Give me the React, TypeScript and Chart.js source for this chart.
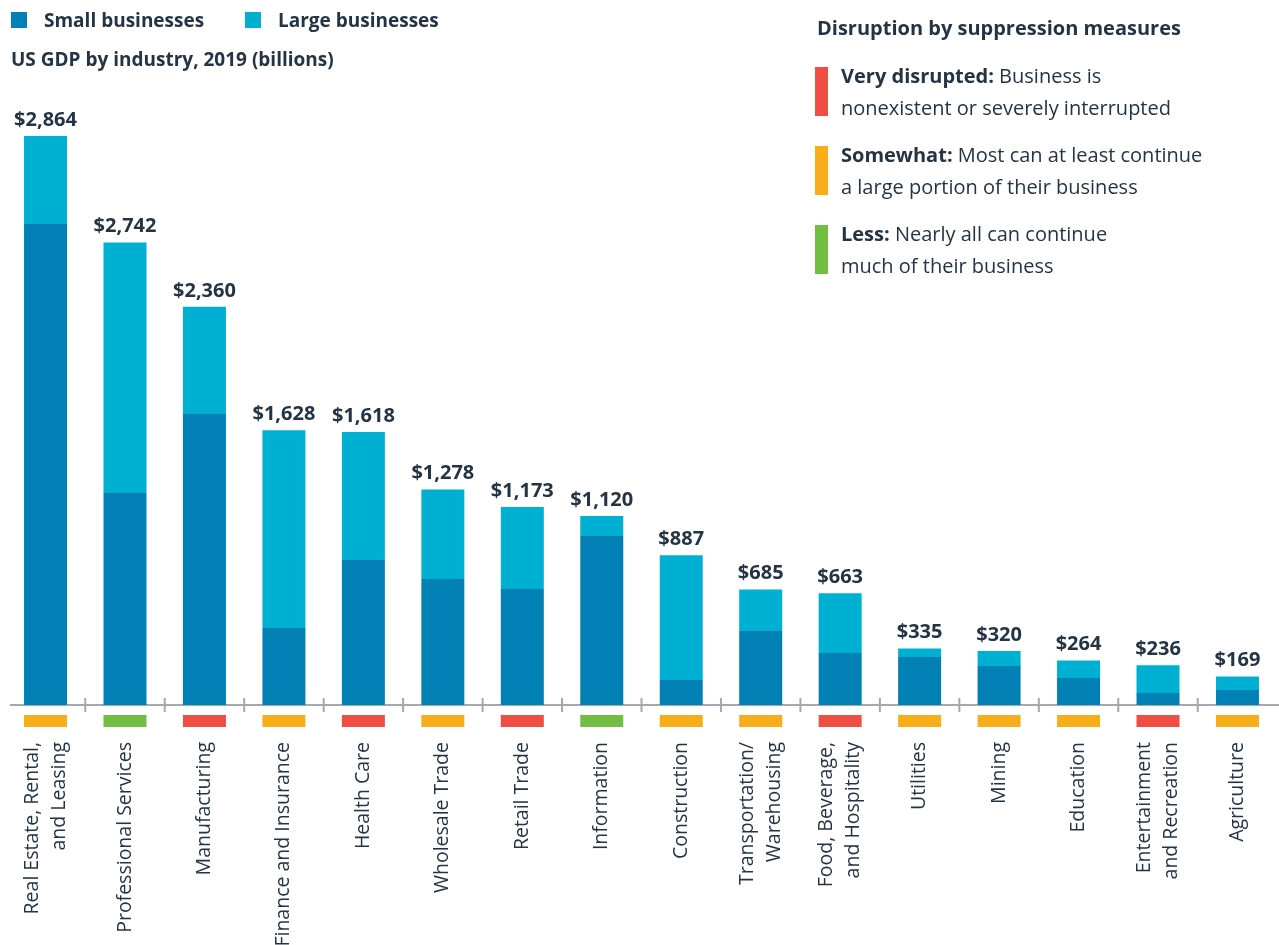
import React, { useEffect, useRef } from "react";
import { Chart, registerables } from "chart.js";

Chart.register(...registerables);

// ---------- data ----------
const categories: string[][] = [
  ["Real Estate, Rental,", "and Leasing"],
  ["Professional Services"],
  ["Manufacturing"],
  ["Finance and Insurance"],
  ["Health Care"],
  ["Wholesale Trade"],
  ["Retail Trade"],
  ["Information"],
  ["Construction"],
  ["Transportation/", "Warehousing"],
  ["Food, Beverage,", "and Hospitality"],
  ["Utilities"],
  ["Mining"],
  ["Education"],
  ["Entertainment", "and Recreation"],
  ["Agriculture"],
];
const smallBusinesses = [2851, 1257, 1725, 456, 860, 747, 688, 1002, 148, 439, 308, 285, 231, 160, 71, 89];
const largeBusinesses = [522, 1485, 635, 1172, 758, 531, 485, 118, 739, 246, 355, 50, 89, 104, 165, 80];
const totalLabels = [2864, 2742, 2360, 1628, 1618, 1278, 1173, 1120, 887, 685, 663, 335, 320, 264, 236, 169];
const disruption = [
  "somewhat", "less", "very", "somewhat", "very", "somewhat", "very", "less",
  "somewhat", "somewhat", "very", "somewhat", "somewhat", "somewhat", "very", "somewhat",
];
const yMax = 3500;

// ---------- styles ----------
const FONT = '"Open Sans", sans-serif';
const TEXT = "#253445";
const SMALL_C = "#0080B4";
const LARGE_C = "#00B0D3";
const AXIS_C = "#A3A8B1";
const DISRUPT_C: Record<string, string> = { very: "#F04E45", somewhat: "#F8AD1A", less: "#72BE44" };

const overlayPlugin = {
  id: "overlay",
  beforeDatasetsDraw(chart: any) {
    const ctx = chart.ctx;
    const xs = chart.scales.x;
    const ys = chart.scales.y;
    const base = ys.getPixelForValue(0);
    ctx.save();
    ctx.strokeStyle = AXIS_C;
    ctx.lineWidth = 2;
    ctx.beginPath();
    ctx.moveTo(10, base);
    ctx.lineTo(chart.width, base);
    for (let i = 0; i < categories.length - 1; i++) {
      const tx = (xs.getPixelForValue(i) + xs.getPixelForValue(i + 1)) / 2;
      ctx.moveTo(tx, base - 7);
      ctx.lineTo(tx, base + 7);
    }
    ctx.stroke();
    ctx.restore();
  },
  afterDatasetsDraw(chart: any) {
    const ctx = chart.ctx;
    const ys = chart.scales.y;
    const base = ys.getPixelForValue(0);
    const meta = chart.getDatasetMeta(1);
    ctx.save();
    for (let i = 0; i < categories.length; i++) {
      const bar = meta.data[i] as any;
      const x = bar.x;
      const w = bar.width;
      // total value label
      ctx.fillStyle = TEXT;
      ctx.font = `700 20px ${FONT}`;
      ctx.textAlign = "center";
      ctx.textBaseline = "alphabetic";
      ctx.fillText("$" + totalLabels[i].toLocaleString("en-US"), x, bar.y - 10);
      // disruption marker
      ctx.fillStyle = DISRUPT_C[disruption[i]];
      ctx.fillRect(x - w / 2, base + 10, w, 12);
      // category label, rotated
      const lines = categories[i];
      const L = 27;
      ctx.save();
      ctx.translate(x, base + 37);
      ctx.rotate(-Math.PI / 2);
      ctx.fillStyle = TEXT;
      ctx.font = `500 19.5px ${FONT}`;
      ctx.textAlign = "right";
      ctx.textBaseline = "middle";
      lines.forEach((ln, j) => {
        ctx.fillText(ln, 0, (j - (lines.length - 1) / 2) * L);
      });
      ctx.restore();
    }
    ctx.restore();
  },
};

function ChartCanvas() {
  const ref = useRef<HTMLCanvasElement | null>(null);
  useEffect(() => {
    if (!ref.current) return;
    const chart = new Chart(ref.current, {
      type: "bar",
      data: {
        labels: categories.map((c) => c.join(" ")),
        datasets: [
          { label: "Small businesses", data: smallBusinesses, backgroundColor: SMALL_C, borderWidth: 0 },
          { label: "Large businesses", data: largeBusinesses, backgroundColor: LARGE_C, borderWidth: 0 },
        ],
      },
      options: {
        responsive: false,
        animation: false,
        devicePixelRatio: 1,
        datasets: { bar: { categoryPercentage: 1, barPercentage: 0.541 } },
        layout: { padding: { left: 5.8, right: 1.8, top: 114.5, bottom: 240 } },
        scales: {
          x: { display: false, stacked: true },
          y: { display: false, stacked: true, min: 0, max: yMax },
        },
        plugins: { legend: { display: false }, tooltip: { enabled: false } },
      },
      plugins: [overlayPlugin],
    });
    return () => chart.destroy();
  }, []);
  return (
    <canvas
      ref={ref}
      width={1279}
      height={945}
      style={{ position: "absolute", left: 0, top: 0, width: 1279, height: 945 }}
    />
  );
}

const abs = (left: number, top: number, extra: React.CSSProperties = {}): React.CSSProperties => ({
  position: "absolute",
  left,
  top,
  ...extra,
});

const legendItems = [
  { key: "very", bold: "Very disrupted:", rest: [" Business is", "nonexistent or severely interrupted"], top: 67 },
  { key: "somewhat", bold: "Somewhat:", rest: [" Most can at least continue", "a large portion of their business"], top: 146 },
  { key: "less", bold: "Less:", rest: [" Nearly all can continue", "much of their business"], top: 225 },
];

export default function App() {
  useEffect(() => {
    document.body.style.margin = "0";
  }, []);
  const txt: React.CSSProperties = { fontFamily: FONT, color: TEXT, whiteSpace: "nowrap" };
  const head: React.CSSProperties = { ...txt, fontWeight: 700, fontSize: 19, lineHeight: "22px", transform: "translateY(-50%)" };
  return (
    <div style={{ position: "relative", width: 1279, height: 945, overflow: "hidden", background: "#fff" }}>
      <ChartCanvas />
      {/* top legend */}
      <div style={abs(11, 12, { width: 16, height: 16, background: SMALL_C })} />
      <div style={abs(44, 20, head)}>Small businesses</div>
      <div style={abs(245, 12, { width: 16, height: 16, background: LARGE_C })} />
      <div style={abs(278, 20, head)}>Large businesses</div>
      <div style={abs(11, 59, head)}>US GDP by industry, 2019 (billions)</div>
      {/* disruption legend */}
      <div style={abs(817, 28, { ...txt, fontWeight: 700, fontSize: 20, lineHeight: "24px", transform: "translateY(-50%)" })}>
        Disruption by suppression measures
      </div>
      {legendItems.map((it) => (
        <React.Fragment key={it.key}>
          <div style={abs(815, it.top, { width: 13, height: 49, background: DISRUPT_C[it.key] })} />
          <div style={abs(841, it.top - 6.75, { ...txt, fontSize: 20, lineHeight: "31.5px" })}>
            <div>
              <span style={{ fontWeight: 700 }}>{it.bold}</span>
              {it.rest[0]}
            </div>
            <div>{it.rest[1]}</div>
          </div>
        </React.Fragment>
      ))}
    </div>
  );
}
